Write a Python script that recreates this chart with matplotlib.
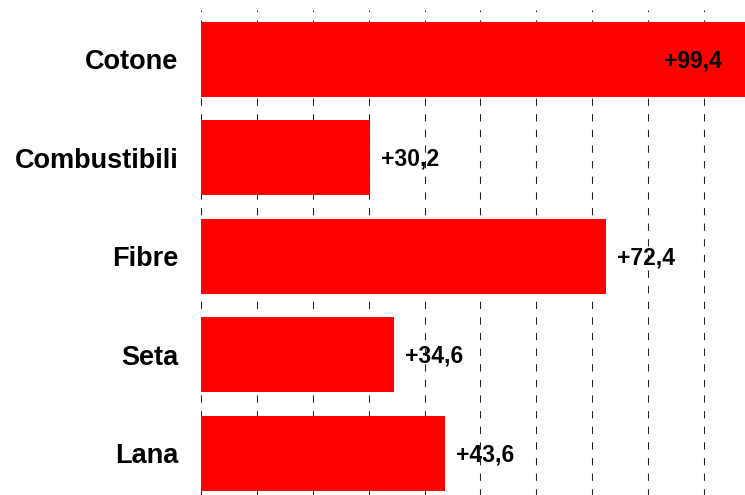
import matplotlib
matplotlib.use('Agg')
import matplotlib.pyplot as plt

# dati
categorie = ['Cotone', 'Combustibili', 'Fibre', 'Seta', 'Lana']
valori = [99.4, 30.2, 72.4, 34.6, 43.6]
etichette = ['+99,4', '+30,2', '+72,4', '+34,6', '+43,6']

plt.rcParams['font.family'] = ['Liberation Sans', 'DejaVu Sans']

fig = plt.figure(figsize=(7.45, 4.95), dpi=100)
# area del grafico: il bordo destro taglia la barra più lunga
ax = fig.add_axes([200.7 / 745, 1 - 502.6 / 495, 1 - 200.7 / 745, 492.6 / 495])

pos = list(range(len(categorie)))
ax.barh(pos, valori, height=0.76, color='#ff0000', zorder=2)

ax.set_xlim(0, 97.27)
ax.set_ylim(len(categorie) - 0.5, -0.5)

ax.set_xticks(range(0, 100, 10))
ax.set_xticklabels([])
ax.set_yticks(pos)
ax.set_yticklabels(categorie, fontsize=19.5, fontweight='bold')
ax.tick_params(axis='y', length=0, pad=16)
ax.tick_params(axis='x', length=0)

ax.grid(axis='x', color='#222222', linewidth=0.75, linestyle=(0, (7, 8)), zorder=1)
ax.set_axisbelow(True)
for s in ax.spines.values():
    s.set_visible(False)

xmax = ax.get_xlim()[1]
for i, (v, t) in enumerate(zip(valori, etichette)):
    if v > xmax:
        ax.annotate(t, (xmax, i), xytext=(-17, -1), textcoords='offset points',
                    ha='right', va='center', fontsize=16.5, fontweight='bold')
    else:
        ax.annotate(t, (v, i), xytext=(8, -1), textcoords='offset points',
                    ha='left', va='center', fontsize=16.5, fontweight='bold')

fig.savefig('out.png', dpi=100)
